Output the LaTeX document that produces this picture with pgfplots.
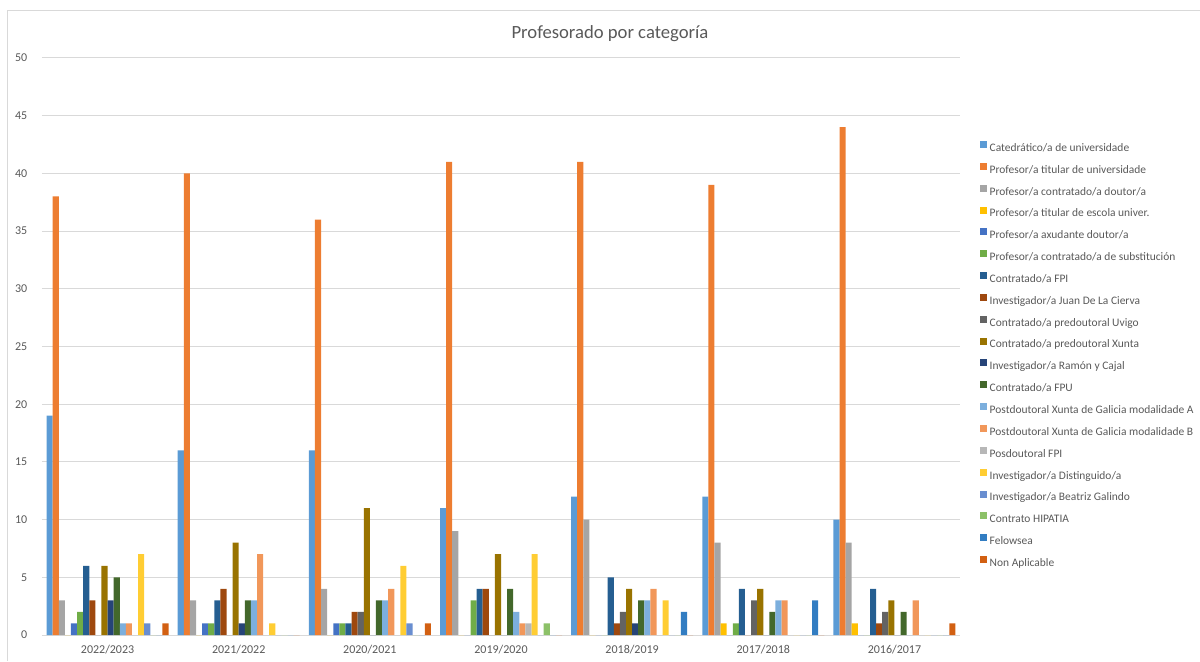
\documentclass[border=0pt]{standalone}
\usepackage{pgfplots}
\pgfplotsset{compat=1.18}
\usepackage{pgfplotstable}
\usepackage{fontspec}
\setmainfont{Carlito}

\definecolor{c1}{HTML}{5B9BD5}
\definecolor{c2}{HTML}{ED7D31}
\definecolor{c3}{HTML}{A5A5A5}
\definecolor{c4}{HTML}{FFC000}
\definecolor{c5}{HTML}{4472C4}
\definecolor{c6}{HTML}{70AD47}
\definecolor{c7}{HTML}{255E91}
\definecolor{c8}{HTML}{9E480E}
\definecolor{c9}{HTML}{636363}
\definecolor{c10}{HTML}{997300}
\definecolor{c11}{HTML}{264478}
\definecolor{c12}{HTML}{43682B}
\definecolor{c13}{HTML}{7CAFDD}
\definecolor{c14}{HTML}{F1975A}
\definecolor{c15}{HTML}{B7B7B7}
\definecolor{c16}{HTML}{FFCD33}
\definecolor{c17}{HTML}{698ED0}
\definecolor{c18}{HTML}{8CC168}
\definecolor{c19}{HTML}{327DC2}
\definecolor{c20}{HTML}{D26012}
\definecolor{gridgray}{HTML}{D9D9D9}
\definecolor{labelgray}{HTML}{595959}

\pgfplotstableread{
g s1 s2 s3 s4 s5 s6 s7 s8 s9 s10 s11 s12 s13 s14 s15 s16 s17 s18 s19 s20
0 19 38 3 0 1 2 6 3 0 6 3 5 1 1 0 7 1 0 0 1
1 16 40 3 0 1 1 3 4 0 8 1 3 3 7 0 1 0 0 0 0
2 16 36 4 0 1 1 1 2 2 11 0 3 3 4 0 6 1 0 0 1
3 11 41 9 0 0 3 4 4 0 7 0 4 2 1 1 7 0 1 0 0
4 12 41 10 0 0 0 5 1 2 4 1 3 3 4 0 3 0 0 2 0
5 12 39 8 1 0 1 4 0 3 4 0 2 3 3 0 0 0 0 3 0
6 10 44 8 1 0 0 4 1 2 3 0 2 0 3 0 0 0 0 0 1
}\data

\begin{document}
\begin{tikzpicture}
\useasboundingbox (0,0) rectangle (900pt,495.75pt);
\draw[gridgray, line width=0.75pt] (5.25pt,0pt) -- (5.25pt,487.9pt) -- (900pt,487.9pt);
\begin{axis}[
  scale only axis,
  width=688.5pt, height=432.75pt,
  at={(31.5pt,19.5pt)}, anchor=south west,
  xmin=-0.5, xmax=6.5, ymin=0, ymax=50,
  ytick={0,5,...,50},
  xtick={0,...,6},
  xticklabels={2022/2023,2021/2022,2020/2021,2019/2020,2018/2019,2017/2018,2016/2017},
  ybar=0pt, bar width=4.575pt,
  ymajorgrids, grid style={draw=gridgray, line width=0.75pt},
  axis line style={draw=none},
  major tick length=0pt,
  /pgf/number format/assume math mode=true,
  tick label style={font=\fontsize{9}{11}\selectfont, text=labelgray},
  yticklabel style={xshift=-7.5pt},
  xticklabel style={yshift=-4pt},
  title={Profesorado por categoría},
  title style={font=\fontsize{14}{16}\selectfont, text=labelgray, at={(0.6187,1.0277)}, anchor=center},
  legend cell align=left,
  legend image code/.code={\fill[#1] (0pt,0pt) rectangle (5.25pt,5.25pt);},
  legend style={at={(1.0218,0.856)}, anchor=north west, draw=none, fill=none,
    font=\fontsize{8.6}{10}\selectfont, text=labelgray,
    inner sep=0pt, outer sep=0pt,
    nodes={inner sep=0pt, text height=7pt, text depth=2pt},
    row sep=6.63pt, column sep=2pt},
  legend entries={
    {Catedrático/a de universidade},
    {Profesor/a titular de universidade},
    {Profesor/a contratado/a doutor/a},
    {Profesor/a titular de escola univer.},
    {Profesor/a axudante doutor/a},
    {Profesor/a contratado/a de substitución},
    {Contratado/a FPI},
    {Investigador/a Juan De La Cierva},
    {Contratado/a predoutoral Uvigo},
    {Contratado/a predoutoral Xunta},
    {Investigador/a Ramón y Cajal},
    {Contratado/a FPU},
    {Postdoutoral Xunta de Galicia modalidade A},
    {Postdoutoral Xunta de Galicia modalidade B},
    {Posdoutoral FPI},
    {Investigador/a Distinguido/a},
    {Investigador/a Beatriz Galindo},
    {Contrato HIPATIA},
    {Felowsea},
    {Non Aplicable}},
]
\pgfplotsinvokeforeach{1,...,20}{
  \addplot[fill=c#1, draw=none] table[x=g, y=s#1]{\data};
}
\end{axis}
\end{tikzpicture}
\end{document}
